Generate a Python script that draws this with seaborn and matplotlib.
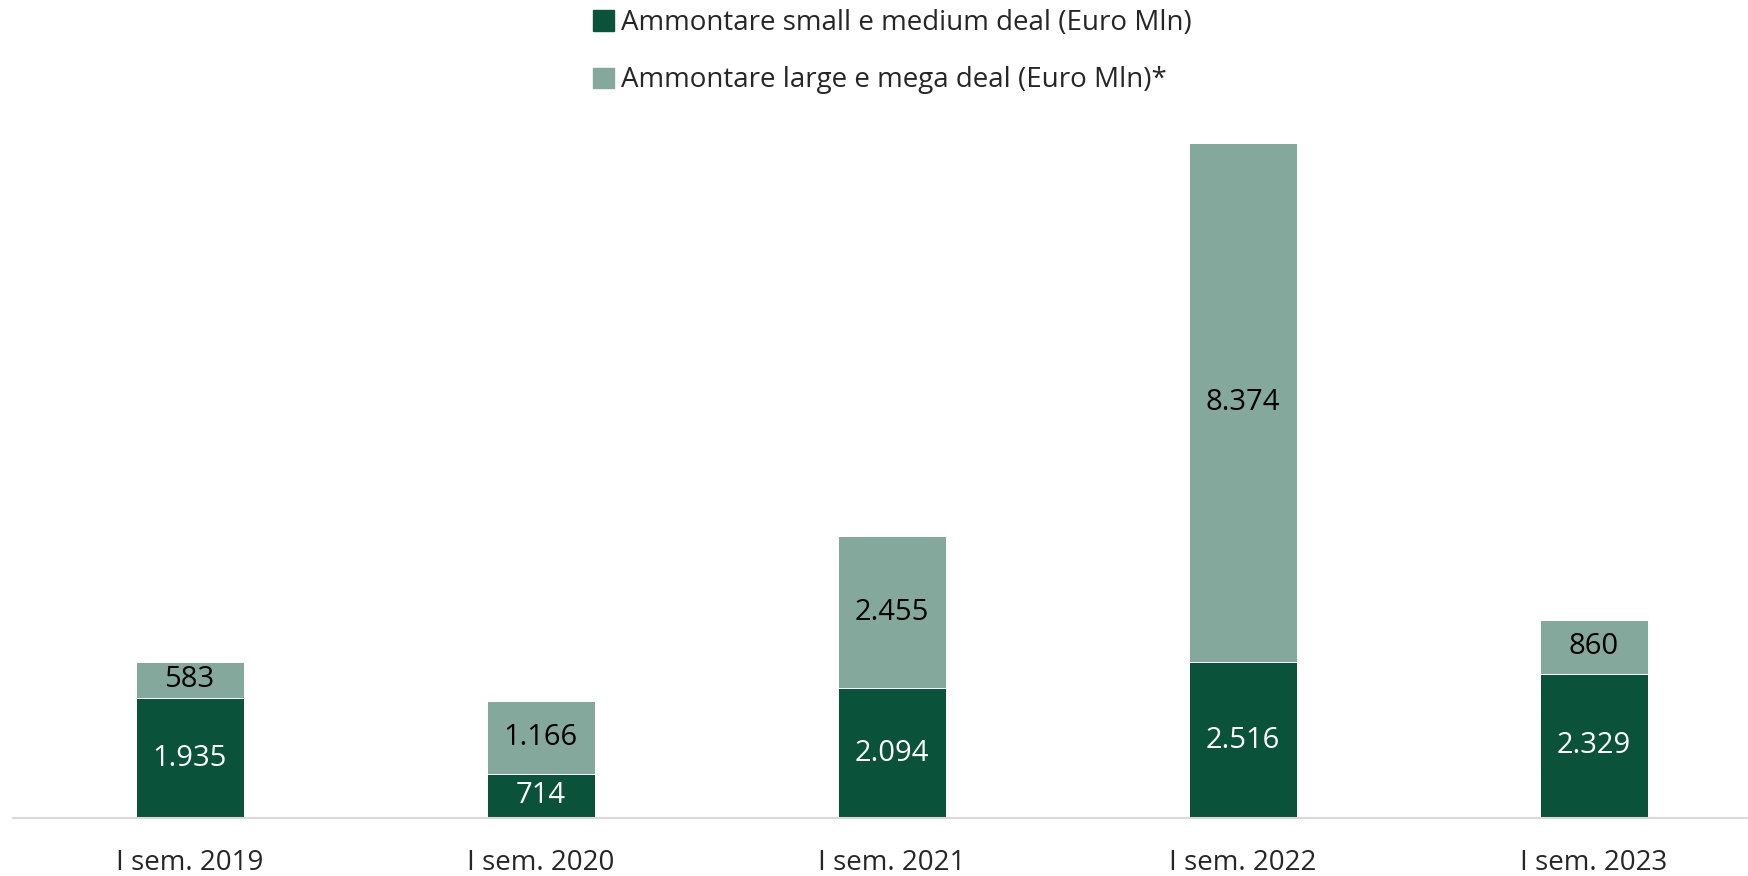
import pandas as pd
import seaborn as sns
from matplotlib import pyplot as plt
from matplotlib.patches import Patch

periods = ['I sem. 2019', 'I sem. 2020', 'I sem. 2021', 'I sem. 2022', 'I sem. 2023']
small_medium = [1935, 714, 2094, 2516, 2329]
large_mega = [583, 1166, 2455, 8374, 860]

dark_green = '#0A5239'
light_green = '#84A89C'

df = pd.DataFrame({'period': periods, 'small': small_medium, 'large': large_mega})
df['total'] = df['small'] + df['large']

sns.set_style('white')
plt.rcParams['font.family'] = ['Open Sans', 'DejaVu Sans']

fig = plt.figure(figsize=(17.48, 8.76), dpi=100)
ax = fig.add_axes([13 / 1748, 58 / 876, 1 - 13 / 1748, 718 / 876])

# stacked bars: total first, small on top of it
sns.barplot(data=df, x='period', y='total', color=light_green, width=0.308,
            saturation=1, edgecolor='white', linewidth=0.7, ax=ax)
sns.barplot(data=df, x='period', y='small', color=dark_green, width=0.308,
            saturation=1, edgecolor='white', linewidth=0.7, ax=ax)

def fmt(v):
    return f'{v:,}'.replace(',', '.')

for i, row in df.iterrows():
    ax.text(i, row['small'] / 2, fmt(row['small']), ha='center', va='center',
            color='white', fontsize=21)
    ax.text(i, row['small'] + row['large'] / 2, fmt(row['large']), ha='center',
            va='center', color='black', fontsize=21)

ax.set_xlim(-0.503, 4.439)
ax.set_ylim(0, 718 / (675 / 10890))
ax.set_xlabel('')
ax.set_ylabel('')
ax.set_yticks([])
ax.tick_params(axis='x', length=0, labelsize=20, pad=22)
for s in ['top', 'right', 'left']:
    ax.spines[s].set_visible(False)
ax.spines['bottom'].set_color('#D9D9D9')
ax.spines['bottom'].set_linewidth(1.5)

handles = [Patch(color=dark_green, label='Ammontare small e medium deal (Euro Mln)'),
           Patch(color=light_green, label='Ammontare large e mega deal (Euro Mln)*')]
fig.legend(handles=handles, loc='upper left', bbox_to_anchor=(568 / 1748, 1.018),
           frameon=False, fontsize=20, handlelength=0.75, handleheight=0.75,
           handletextpad=0.25, labelspacing=1.05)

plt.savefig('out.png', dpi=100)
